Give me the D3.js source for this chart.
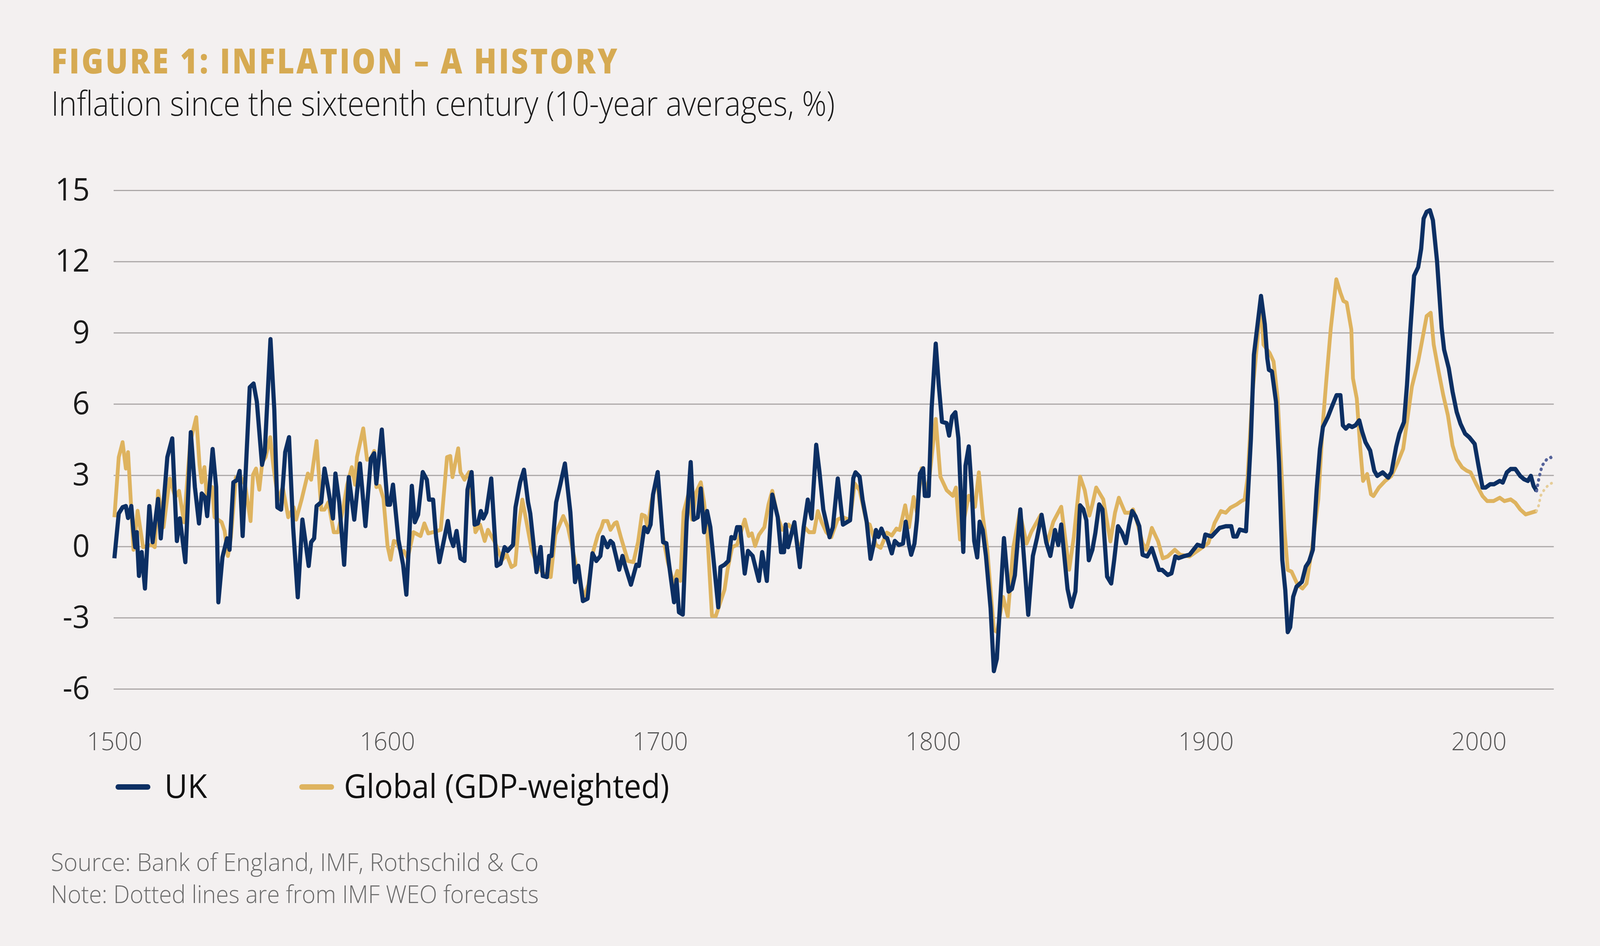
<!DOCTYPE html>
<html>
<head>
<meta charset="utf-8">
<script src="https://cdn.jsdelivr.net/npm/d3@7"></script>
<style>
  html, body { margin: 0; padding: 0; background: #F3F0F0; overflow: hidden; }
  svg { display: block; width: 100vw; height: 100vh; }
</style>
</head>
<body>
<div class="canvas"></div>
<script>
// data (10-year average inflation, %)
const ukYears = [1500,1501.6,1503,1504.2,1505,1506.2,1507,1507.6,1508.2,1509,1510,1511.2,1512.8,1514,1516,1517,1519.4,1521.2,1522.9,1524,1526,1528,1529.5,1531,1532,1533.2,1534,1536,1537.3,1538.1,1539.6,1541.3,1542.2,1543.6,1545,1545.9,1547,1549.6,1551,1552.2,1554.1,1555.1,1557.2,1558.6,1559.7,1561.1,1562.6,1564,1565.5,1567.2,1568.9,1569.8,1571.2,1572.1,1573.2,1574.1,1575.8,1577,1578.4,1580.1,1581,1582.4,1584.2,1585.9,1587.9,1590,1592,1594,1595.2,1596,1598,1600.1,1601,1602.1,1604.1,1605.8,1607,1609,1610.1,1611.3,1613,1614.5,1615.3,1616.8,1617.9,1619.1,1620.8,1622.2,1623.1,1624.2,1625.4,1626.8,1628.3,1629.4,1630.9,1632,1633.2,1634.3,1635.2,1636.3,1638.1,1640.1,1641.5,1643,1644.1,1646.1,1647,1648.7,1650.1,1651.6,1652.4,1654.7,1656.2,1657,1658.5,1659.3,1660.2,1661.9,1663.4,1665.1,1667.1,1668.8,1670,1671.7,1673.4,1675.2,1676.6,1678.1,1679,1680.7,1681.8,1682.7,1685,1686.2,1687.3,1689.3,1691.3,1692.2,1694.2,1695.4,1696.5,1697.4,1699.1,1701.1,1702.3,1703.4,1705.1,1706,1706.9,1708.3,1709.7,1711.2,1712.3,1713.8,1714.9,1716.1,1717.2,1718.4,1721.3,1722.1,1723.6,1725,1726.1,1727.3,1728.2,1729.3,1731,1732.2,1733.9,1736.2,1737.4,1739.1,1741.1,1743.1,1744.3,1745.4,1746,1746.9,1749.2,1751.2,1752.6,1754.1,1755.5,1757.2,1758.4,1759.8,1762.1,1763.3,1765.1,1767,1769.6,1770.8,1771.6,1773.1,1774.2,1775.7,1777.1,1778.2,1779.1,1780,1781.1,1782.3,1783.2,1784.9,1786,1787.5,1789,1790,1791.2,1792,1793.2,1794.1,1795.2,1796.4,1797,1798.4,1799.5,1801,1802.1,1803.3,1805,1805.9,1807,1808.2,1809.3,1811.1,1811.9,1813.1,1814.2,1815.1,1816.2,1817.1,1818.2,1819.4,1821.1,1822.3,1823.4,1826,1827.7,1828.9,1830,1832,1834.9,1836.6,1838.1,1839.8,1841.5,1843,1844.7,1845.9,1847,1849.3,1850.7,1852.2,1853.9,1855.1,1856.2,1857.1,1858.4,1859.5,1860.9,1862.1,1863.8,1865.3,1866.4,1867.8,1869.3,1870.7,1871.9,1873,1874.2,1875.6,1876.8,1878.5,1880.2,1882.8,1884,1886,1887.4,1888.8,1890,1891.7,1894,1896.9,1898.9,1899.8,1902.1,1905,1907.3,1909.3,1910.1,1911.3,1912.4,1914.7,1916.5,1917.6,1920.2,1921.6,1922.5,1923.1,1924.2,1925.7,1926.8,1928,1929.1,1930,1930.9,1932,1933.2,1935.2,1936.6,1937.8,1939.2,1940.6,1941.8,1942.9,1944.7,1946.4,1947.9,1949.3,1950.2,1951.3,1952.4,1953.6,1954.8,1956.2,1957.3,1958.5,1960.2,1961.7,1962.8,1964.8,1966.8,1968,1969.7,1970.9,1972.6,1973.7,1974.9,1976.3,1977.8,1978.9,1979.8,1980.9,1982.1,1983.2,1984.7,1986.4,1987.3,1989,1990.4,1991.9,1993.3,1995,1996.5,1998.5,1999.9,2001.4,2002.5,2004.2,2005.6,2007.7,2008.8,2010.3,2011.7,2013.4,2015.2,2016.6,2018,2019.1,2020.1,2021.2];
const ukValues = [-0.5,1.39,1.65,1.7,1.2,1.7,0.6,-0.03,0.6,-1.24,-0.24,-1.77,1.7,0.18,2.0,0.34,3.76,4.55,0.23,1.18,-0.66,4.81,2.5,0.97,2.23,2.07,1.28,4.1,2.5,-2.35,-0.45,0.34,-0.14,2.7,2.8,3.18,0.44,6.7,6.86,6.1,3.44,3.97,8.73,5.76,1.65,1.55,3.97,4.6,0.81,-2.14,1.13,0.39,-0.82,0.18,0.34,1.7,1.86,3.28,2.39,1.18,3.07,1.86,-0.77,2.92,1.13,3.49,0.86,3.7,3.92,2.65,4.92,1.76,1.76,2.6,0.28,-0.77,-2.03,2.55,1.02,1.34,3.13,2.81,1.97,1.97,0.39,-0.66,0.28,1.07,0.39,0.02,0.65,-0.5,-0.61,2.39,3.13,0.92,0.97,1.49,1.18,1.44,2.86,-0.82,-0.72,-0.03,-0.19,0.07,1.65,2.7,3.23,1.86,1.39,-1.08,-0.03,-1.24,-1.29,-0.4,-0.4,1.86,2.6,3.49,1.44,-1.5,-0.82,-2.3,-2.2,-0.29,-0.61,-0.4,0.39,-0.03,0.23,0.13,-0.98,-0.4,-0.87,-1.61,-0.77,-0.82,0.81,0.6,0.92,2.18,3.13,0.18,0.13,-0.87,-2.35,-1.4,-2.77,-2.87,1.02,3.55,1.13,1.23,2.44,0.6,1.49,0.81,-2.56,-0.87,-0.77,-0.61,0.39,0.34,0.81,0.81,-1.14,-0.19,-0.4,-1.45,-0.24,-1.45,2.18,1.23,-0.24,-0.24,0.92,-0.03,1.02,-0.87,0.81,1.97,1.18,4.28,3.13,1.55,0.39,0.81,2.86,0.92,1.1,2.88,3.12,2.94,1.96,1.04,-0.52,0.06,0.69,0.4,0.75,0.4,0.35,-0.29,0.23,0.06,0.12,1.04,0.06,-0.35,0.12,1.1,3.06,3.29,2.13,2.13,5.83,8.54,6.81,5.25,5.19,4.67,5.48,5.65,4.56,-0.23,3.4,4.21,2.37,0.23,-0.46,1.04,0.69,-0.4,-2.6,-5.25,-4.73,0.35,-1.9,-1.79,-1.21,1.56,-2.88,-0.4,0.35,1.33,0.17,-0.4,0.69,0.06,0.92,-1.79,-2.54,-1.9,1.73,1.56,1.1,-0.58,-0.14,0.57,1.77,1.56,-1.27,-1.56,-0.57,0.85,0.57,0.14,0.92,1.49,1.27,0.85,-0.35,-0.42,-0.07,-0.99,-0.99,-1.2,-1.13,-0.42,-0.49,-0.42,-0.35,0.07,0.0,0.5,0.42,0.78,0.85,0.85,0.42,0.42,0.71,0.64,4.53,8.07,10.55,9.35,7.93,7.44,7.37,6.09,3.54,-0.57,-1.84,-3.61,-3.4,-2.12,-1.7,-1.49,-0.85,-0.64,-0.14,2.41,4.11,5.03,5.45,5.95,6.37,6.37,5.1,4.96,5.1,5.03,5.1,5.31,4.82,4.39,4.04,3.19,2.97,3.12,2.9,3.12,4.18,4.75,5.24,6.8,9.07,11.4,11.76,12.54,13.81,14.09,14.16,13.74,12.04,9.21,8.29,7.51,6.52,5.67,5.17,4.75,4.6,4.32,3.4,2.48,2.48,2.62,2.62,2.76,2.69,3.12,3.26,3.26,2.97,2.83,2.76,2.97,2.55,2.34];

const globalYears = [1500,1501.6,1503,1504.2,1505,1506.2,1507,1508.5,1510.5,1513.7,1514.8,1516,1518,1520.3,1522.3,1523.7,1525.5,1527.8,1530,1531.2,1532,1533,1533.8,1535.8,1536.7,1539.3,1540.4,1541.6,1542.7,1544.5,1545.9,1547.9,1549.9,1550.8,1551.9,1553.1,1554.2,1555.4,1557.1,1558.3,1560,1561.7,1563.7,1565.7,1566.6,1568.6,1570.9,1572.1,1574.1,1575.8,1577,1578.4,1580.4,1581.9,1583.6,1585.3,1587,1588.2,1588.9,1591.2,1592.6,1594,1595.2,1596,1597.2,1598.6,1600.1,1601.2,1602.4,1603.5,1605,1606.1,1607.5,1609.6,1612.2,1613.6,1615,1616.8,1619.6,1621.9,1623.1,1623.9,1626,1626.8,1628.3,1630,1632.3,1634,1635.7,1636.9,1638.1,1639.2,1642.1,1643.8,1645.5,1646.9,1648.1,1649.5,1650.7,1653,1655.3,1657.6,1659.9,1661.6,1664.5,1666.2,1669.1,1672,1673.7,1675.4,1677.2,1678.5,1679.2,1680.7,1681.8,1683.3,1684.1,1685.6,1688.2,1690.2,1691.9,1693.3,1694.5,1695.4,1696.8,1698.8,1701.1,1702.8,1704.9,1706.3,1707.4,1708.6,1710.3,1711.7,1713.2,1714.9,1716.1,1717.2,1719,1720.4,1723.6,1724.7,1726.4,1728.2,1731,1732.5,1733.6,1734.8,1736.2,1738.2,1739.7,1741.1,1743.1,1744.8,1747.1,1749.4,1751.2,1752.9,1754.6,1756.4,1757.8,1759.2,1760.9,1762.7,1765,1767,1769.6,1771.3,1773.1,1775.7,1776.8,1779.1,1780.8,1783.1,1784.9,1786.6,1787.8,1789.8,1791.2,1792.9,1794.1,1795.8,1797.2,1798.7,1801,1802.7,1805,1807.3,1808.4,1809.9,1811.3,1813.1,1815.4,1816.8,1818.2,1819.9,1822.3,1823.5,1825.7,1827.4,1829.4,1831.8,1834.3,1836.1,1839.5,1841.8,1844.1,1847,1849.9,1851.6,1853.9,1855.6,1857.3,1858.4,1859.8,1862.4,1865,1866.7,1868.1,1870.4,1872.2,1873.3,1874.7,1876.8,1878.2,1880.2,1882.5,1884.2,1886,1888.6,1890.6,1894,1897.5,1900.9,1903.2,1905.5,1907.3,1909,1911.3,1913,1914.2,1915.3,1917,1918.5,1920.2,1921.1,1923.4,1924.8,1926.3,1927.4,1928.8,1930,1931.4,1933.7,1935.4,1936.9,1939,1941.2,1942.9,1944.1,1945.8,1947.8,1949.3,1950.4,1951.6,1953.3,1953.9,1955.3,1956.5,1957.6,1959.1,1960.5,1961.4,1963.4,1965.7,1968,1970.3,1972.3,1973.7,1975.5,1977.8,1979.2,1980.9,1982.4,1983.5,1985.3,1987,1988.7,1990.4,1991.9,1993.9,1995.6,1997,1999.1,2001.4,2003.1,2005.4,2007.7,2009.4,2011.7,2013.4,2015.2,2017.2,2019.2,2021.2];
const globalValues = [1.23,3.76,4.39,3.28,3.97,1.55,-0.14,1.5,-0.03,0.07,-0.03,2.34,0.81,2.86,2.07,2.34,1.02,4.39,5.44,3.44,2.7,3.34,2.18,2.5,1.23,1.02,0.65,-0.4,0.39,2.9,3.0,2.6,1.07,3.02,3.28,2.39,3.55,3.76,4.6,3.34,1.97,2.5,1.23,1.65,1.13,1.97,3.07,2.81,4.44,1.55,1.55,1.86,0.6,0.6,1.44,2.6,3.34,2.6,3.76,4.97,3.65,3.7,4.02,2.5,2.55,2.02,0.02,-0.56,0.23,0.18,-0.24,-0.19,-0.5,0.6,0.44,0.97,0.55,0.6,0.7,3.76,3.81,2.92,4.13,3.13,2.81,3.13,0.6,0.92,0.23,0.7,0.44,0.23,-0.56,-0.35,-0.87,-0.77,0.81,1.97,1.23,-0.19,-0.87,-1.19,-1.29,0.49,1.28,0.81,-0.77,-2.14,-1.61,-0.24,0.49,0.8,1.07,1.07,0.7,0.97,1.02,0.39,-0.61,-0.66,0.18,1.34,1.28,0.76,1.86,2.92,0.39,-0.66,-1.56,-1.03,-1.45,1.44,2.18,1.13,2.28,2.7,1.86,0.7,-2.93,-2.93,-1.82,-0.98,-0.03,0.07,1.13,0.44,0.55,0.02,0.49,0.81,1.76,2.34,1.23,0.7,0.92,0.6,-0.24,0.81,0.6,0.6,1.49,1.02,0.6,0.39,1.13,1.23,1.1,2.65,2.37,0.98,0.92,0.06,-0.06,0.58,0.46,0.75,0.69,1.73,0.81,2.08,1.44,3.29,2.19,2.9,5.37,2.94,2.37,2.13,2.48,0.29,1.1,2.13,1.67,3.12,1.33,-0.17,-3.52,-3.6,-2.13,-2.94,-0.06,1.44,0.12,0.63,1.33,0.12,1.04,1.67,-0.98,0.4,2.94,2.37,1.3,1.77,2.48,1.98,0.21,1.42,2.05,1.42,1.42,1.56,1.06,0.14,-0.14,0.78,0.21,-0.5,-0.42,-0.14,-0.35,-0.42,-0.14,0.14,0.99,1.49,1.42,1.63,1.77,1.91,1.98,2.9,6.37,8.22,10.34,8.5,8.14,7.79,6.23,3.82,0.71,-0.99,-1.06,-1.63,-1.77,-1.56,0.0,1.98,5.24,6.94,9.21,11.25,10.69,10.34,10.27,9.14,7.08,6.23,4.25,2.76,3.05,2.2,2.12,2.48,2.76,2.97,3.54,4.11,5.24,6.73,7.79,8.64,9.7,9.84,8.5,7.37,6.37,5.52,4.25,3.68,3.33,3.19,3.12,2.62,2.12,1.91,1.91,2.05,1.91,1.98,1.84,1.56,1.35,1.42,1.49];

// IMF WEO forecast tails (dotted)
const ukForecastYears = [2021.2,2022.1,2023.2,2025,2026.4,2027.3];
const ukForecastValues = [2.34,2.9,3.4,3.68,3.75,3.61];
const globalForecastYears = [2021.2,2022.1,2022.6,2024.1,2025.8,2027.3];
const globalForecastValues = [1.49,1.77,2.12,2.41,2.62,2.69];

const yTicks = [-6, -3, 0, 3, 6, 9, 12, 15];
const xTicks = [1500, 1600, 1700, 1800, 1900, 2000];

const seriesNames = ['UK', 'Global (GDP-weighted)'];

// page setup: draw in a fixed 4224x2421 box, let the viewBox fit it to the window
const W = 4224, H = 2421;
const navy = '#0C2F63', gold = '#DEB35F';
const font = '"Open Sans", "Noto Sans", sans-serif';

const svg = d3.select('.canvas')
              .append('svg')
              .attr('viewBox', `0 0 ${W} ${H}`)
              .attr('preserveAspectRatio', 'none');

svg.append('rect')
   .attr('width', W).attr('height', H)
   .attr('fill', '#F3F0F0');

const x = d3.scaleLinear().domain([1500, 2027.5]).range([302, 4102]);
const y = d3.scaleLinear().domain([-6, 15]).range([1763, 487]);

// titles
svg.append('text')
   .attr('x', 135).attr('y', 188)
   .attr('font-family', font)
   .attr('font-weight', 800)
   .attr('font-size', 88)
   .attr('fill', '#D6AA52')
   .attr('letter-spacing', 6)
   .attr('textLength', 1500)
   .attr('lengthAdjust', 'spacingAndGlyphs')
   .text('FIGURE 1: INFLATION – A HISTORY');

svg.append('text')
   .attr('x', 135).attr('y', 296)
   .attr('font-family', font)
   .attr('font-weight', 300)
   .attr('font-size', 87)
   .attr('fill', '#1b1b1b')
   .attr('textLength', 2069)
   .attr('lengthAdjust', 'spacingAndGlyphs')
   .text('Inflation since the sixteenth century (10-year averages, %)');

// y axis doubles as the gridlines
const yAxis = d3.axisLeft(y)
                .tickValues(yTicks)
                .tickSize(-(x.range()[1] - 300))
                .tickPadding(63)
                .tickFormat(d => String(d));

const yg = svg.append('g')
              .attr('transform', 'translate(300, 0)')
              .call(yAxis);

yg.select('.domain').remove();
yg.selectAll('.tick line')
  .attr('stroke', '#ABA7A7')
  .attr('stroke-width', 3);
yg.selectAll('.tick text')
  .attr('font-family', font)
  .attr('font-size', 80)
  .attr('fill', '#1b1b1b');

// x axis labels only
const xAxis = d3.axisBottom(x)
                .tickValues(xTicks)
                .tickSize(0)
                .tickPadding(0)
                .tickFormat(d3.format('d'));

const xg = svg.append('g')
              .attr('transform', 'translate(0, 1875)')
              .call(xAxis);

xg.select('.domain').remove();
xg.selectAll('.tick text')
  .attr('font-family', font)
  .attr('font-weight', 300)
  .attr('font-size', 64)
  .attr('fill', '#555');

// line generator
const line = d3.line()
               .x(d => x(d[0]))
               .y(d => y(d[1]))
               .curve(d3.curveLinear);

const zip = (a, b) => a.map((v, i) => [v, b[i]]);

// global first so the UK sits on top
svg.append('path')
   .datum(zip(globalYears, globalValues))
   .attr('fill', 'none')
   .attr('stroke', gold)
   .attr('stroke-width', 10)
   .attr('stroke-linejoin', 'round')
   .attr('d', line);

svg.append('path')
   .datum(zip(ukYears, ukValues))
   .attr('fill', 'none')
   .attr('stroke', navy)
   .attr('stroke-width', 11)
   .attr('stroke-linejoin', 'round')
   .attr('d', line);

// forecasts, dotted and paler
svg.append('path')
   .datum(zip(globalForecastYears, globalForecastValues))
   .attr('fill', 'none')
   .attr('stroke', '#E6CD98')
   .attr('stroke-width', 7)
   .attr('stroke-linecap', 'round')
   .attr('stroke-dasharray', '1,13')
   .attr('d', line);

svg.append('path')
   .datum(zip(ukForecastYears, ukForecastValues))
   .attr('fill', 'none')
   .attr('stroke', '#55639A')
   .attr('stroke-width', 8)
   .attr('stroke-linecap', 'round')
   .attr('stroke-dasharray', '1,13')
   .attr('d', line);

// legend
const legend = svg.append('g');
const legendItems = [
  { name: seriesNames[0], color: navy, x0: 312, tx: 434, len: null },
  { name: seriesNames[1], color: gold, x0: 797, tx: 908, len: 859 }
];

legendItems.forEach(item => {
  legend.append('line')
        .attr('x1', item.x0).attr('x2', item.x0 + 78)
        .attr('y1', 2014).attr('y2', 2014)
        .attr('stroke', item.color)
        .attr('stroke-width', 14)
        .attr('stroke-linecap', 'round');
  const t = legend.append('text')
        .attr('x', item.tx).attr('y', 2042)
        .attr('font-family', font)
        .attr('font-size', 84)
        .attr('fill', '#111')
        .text(item.name);
  if (item.len) t.attr('textLength', item.len).attr('lengthAdjust', 'spacingAndGlyphs');
});

// footnotes
const notes = ['Source: Bank of England, IMF, Rothschild & Co',
               'Note: Dotted lines are from IMF WEO forecasts'];
notes.forEach((n, i) => {
  svg.append('text')
     .attr('x', 134).attr('y', 2229 + i * 82)
     .attr('font-family', font)
     .attr('font-weight', 300)
     .attr('font-size', 62)
     .attr('fill', '#6a6a6a')
     .attr('textLength', 1288)
     .attr('lengthAdjust', 'spacingAndGlyphs')
     .text(n);
});
</script>
</body>
</html>
